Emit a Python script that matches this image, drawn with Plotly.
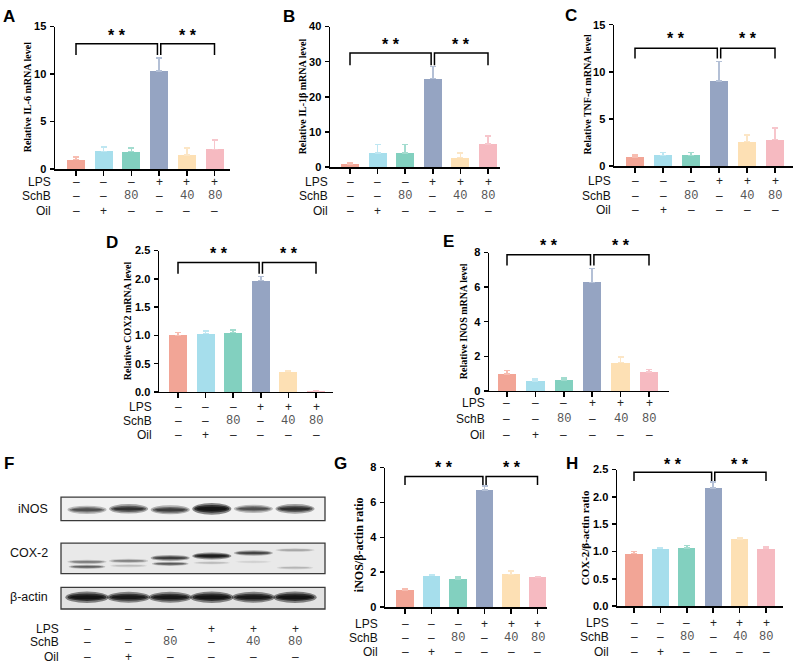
import plotly.graph_objects as go

W, H = 794, 670

# ---------------- data ----------------
groups = ["Control", "Oil", "SchB 80", "LPS", "LPS+SchB 40", "LPS+SchB 80"]
LPS_row = ["–", "–", "–", "+", "+", "+"]
SchB_row = ["–", "–", "80", "–", "40", "80"]
Oil_row = ["–", "+", "–", "–", "–", "–"]

IL6_mean = [1.00, 1.86, 1.83, 10.35, 1.50, 2.07]
IL6_err = [0.28, 0.44, 0.37, 1.35, 0.74, 1.00]
IL1b_mean = [0.90, 4.00, 4.00, 25.2, 2.70, 6.50]
IL1b_err = [0.20, 2.40, 2.40, 3.50, 1.30, 2.30]
TNF_mean = [0.97, 1.14, 1.14, 9.04, 2.60, 2.80]
TNF_err = [0.23, 0.31, 0.31, 2.04, 0.70, 1.25]
COX2_mean = [1.00, 1.03, 1.05, 1.97, 0.36, 0.02]
COX2_err = [0.05, 0.046, 0.044, 0.07, 0.01, 0.005]
INOS_mean = [0.98, 0.58, 0.62, 6.28, 1.64, 1.09]
INOS_err = [0.19, 0.10, 0.12, 0.81, 0.32, 0.16]
iNOS_ratio_mean = [0.99, 1.80, 1.61, 6.72, 1.87, 1.70]
iNOS_ratio_err = [0.08, 0.05, 0.11, 0.21, 0.21, 0.06]
COX2_ratio_mean = [0.96, 1.05, 1.06, 2.16, 1.23, 1.05]
COX2_ratio_err = [0.04, 0.02, 0.05, 0.11, 0.03, 0.03]

# significance brackets: (bracket level, arm end level, star level)
IL6_sig = [13.2, 12.0, 14.1]
IL1b_sig = [32.5, 29.0, 35.0]
TNF_sig = [12.5, 11.4, 13.5]
COX2_sig = [2.29, 2.09, 2.45]
INOS_sig = [7.87, 7.25, 8.40]
iNOS_ratio_sig = [7.49, 7.00, 8.03]
COX2_ratio_sig = [2.45, 2.29, 2.60]
sig_pairs = [(0, 3), (3, 5)]

# western blot band intensities (relative darkness, lanes 1-6)
iNOS_band = [0.50, 0.68, 0.60, 1.00, 0.50, 0.70]
COX2_upper_band = [0.30, 0.28, 0.60, 0.85, 0.55, 0.18]
COX2_lower_band = [0.42, 0.12, 0.45, 0.12, 0.06, 0.14]
actin_band = [0.98, 0.92, 0.92, 0.98, 0.92, 0.98]

# ---------------- style ----------------
bar_colors = ["#F2A596", "#A6DEEC", "#82D0BF", "#95A4C2", "#FDE0B4", "#F6BAC1"]
err_colors = ["#F7BDB1", "#BFE7F2", "#A3DCCF", "#B4C0D6", "#FCE6C6", "#F7C6CC"]

panels = [
    dict(letter="A", mean=IL6_mean, err=IL6_err, sig=IL6_sig, ymax=15, dtick=5, fmt="d",
         title="Relative IL-6 mRNA level", tsize=10,
         axL=55, axR=230, yTop=21, yZero=166, first=76, sp=27.7, rows=(179, 193, 209),
         labR=53, tx=27, ty=93, lx=9, ly=11),
    dict(letter="B", mean=IL1b_mean, err=IL1b_err, sig=IL1b_sig, ymax=40, dtick=10, fmt="d",
         title="Relative IL-1β mRNA level", tsize=10,
         axL=330, axR=500, yTop=21, yZero=164, first=350, sp=27.6, rows=(179, 193, 209),
         labR=330, tx=302, ty=92, lx=289, ly=11),
    dict(letter="C", mean=TNF_mean, err=TNF_err, sig=TNF_sig, ymax=15, dtick=5, fmt="d",
         title="Relative TNF-α mRNA level", tsize=10,
         axL=614, axR=793, yTop=19, yZero=163, first=635, sp=28.0, rows=(178, 193, 208),
         labR=613, tx=587, ty=90, lx=571, ly=10),
    dict(letter="D", mean=COX2_mean, err=COX2_err, sig=COX2_sig, ymax=2.5, dtick=0.5, fmt=".1f",
         title="Relative COX2 mRNA level", tsize=10,
         axL=159, axR=333, yTop=249, yZero=393, first=178, sp=27.6, rows=(408, 423, 437),
         labR=154, tx=127, ty=321, lx=112, ly=241),
    dict(letter="E", mean=INOS_mean, err=INOS_err, sig=INOS_sig, ymax=8, dtick=2, fmt="d",
         title="Relative INOS mRNA level", tsize=10,
         axL=489, axR=669, yTop=251, yZero=392, first=507, sp=28.4, rows=(404, 421, 437),
         labR=487, tx=463, ty=321, lx=448, ly=240),
    dict(letter="G", mean=iNOS_ratio_mean, err=iNOS_ratio_err, sig=iNOS_ratio_sig, ymax=8, dtick=2, fmt="d",
         title="iNOS/β-actin ratio", tsize=12,
         axL=385, axR=547, yTop=470, yZero=612, first=405, sp=26.5, rows=(629, 644, 658),
         labR=380, tx=359, ty=549, lx=340, ly=466),
    dict(letter="H", mean=COX2_ratio_mean, err=COX2_ratio_err, sig=COX2_ratio_sig, ymax=2.5, dtick=0.5, fmt=".1f",
         title="COX-2/β-actin ratio", tsize=11,
         axL=617, axR=783, yTop=472, yZero=611, first=634, sp=26.4, rows=(628, 643, 658),
         labR=611, tx=585, ty=542, lx=572, ly=466),
]

SANS = "Arial, Liberation Sans, sans-serif"
SERIF = "Times New Roman, Liberation Serif, serif"
MONO = "Liberation Mono, DejaVu Sans Mono, monospace"


def px(x):
    return x / W


def py(y):
    return 1 - y / H


fig = go.Figure()
layout = dict(width=W, height=H, margin=dict(l=0, r=0, t=0, b=0),
              paper_bgcolor="white", plot_bgcolor="white", showlegend=False,
              bargap=0)
annotations = []
shapes = []


def add_rows(xref, rows, labR):
    for label, marks, yy in zip(["LPS", "SchB", "Oil"], [LPS_row, SchB_row, Oil_row], rows):
        annotations.append(dict(xref="paper", yref="paper", x=px(labR), y=py(yy), text=label,
                                showarrow=False, xanchor="right", yanchor="middle",
                                font=dict(family=SANS, size=12, color="#111")))
        for i, m in enumerate(marks):
            is_num = m.isdigit()
            annotations.append(dict(xref=xref, yref="paper", x=i, y=py(yy), text=m,
                                    showarrow=False, xanchor="center", yanchor="middle",
                                    font=dict(family=MONO if is_num else SANS, size=12,
                                              color="#555" if is_num else "#222")))


for k, p in enumerate(panels):
    n = k + 1
    xs = "" if n == 1 else str(n)
    xref, yref = "x" + xs, "y" + xs
    xmin = -(p["first"] - p["axL"]) / p["sp"]
    xmax = (p["axR"] - p["first"]) / p["sp"]
    ydom = [py(p["yZero"]), py(p["yTop"])]
    layout["xaxis" + xs] = dict(domain=[px(p["axL"]), px(p["axR"])], range=[xmin, xmax],
                                anchor=yref, showgrid=False, zeroline=False,
                                showline=True, linecolor="black", linewidth=1.5,
                                ticks="outside", ticklen=5, tickwidth=1.5, tickcolor="black",
                                tickvals=list(range(6)), showticklabels=False, fixedrange=True)
    layout["yaxis" + xs] = dict(domain=ydom, range=[0, p["ymax"]],
                                anchor=xref, showgrid=False, zeroline=False,
                                showline=True, linecolor="black", linewidth=1.5,
                                ticks="outside", ticklen=4, tickwidth=1.5, tickcolor="black",
                                dtick=p["dtick"], tick0=0, tickformat=p["fmt"],
                                tickfont=dict(family=SANS, size=11, color="black", weight="bold"),
                                ticklabelstandoff=1, fixedrange=True)
    for i in range(6):
        fig.add_trace(go.Bar(x=[i], y=[p["mean"][i]], width=0.65, xaxis=xref, yaxis=yref,
                             name=groups[i], marker=dict(color=bar_colors[i], line=dict(width=0)),
                             error_y=dict(type="data", array=[p["err"][i]], arrayminus=[0],
                                          symmetric=False, color=err_colors[i],
                                          thickness=1.5, width=3)))
    top, arm, star = p["sig"]
    # star level may lie above the axis top, so place it in paper units via the axis scale
    star_paper = ydom[0] + (star / p["ymax"]) * (ydom[1] - ydom[0])
    offs = [(0.0, -0.06), (0.06, 0.0)]
    for (a, b), (oa, ob) in zip(sig_pairs, offs):
        x0, x1 = a + oa, b + ob
        shapes.append(dict(type="path", xref=xref, yref=yref,
                           path=f"M{x0},{arm} L{x0},{top} L{x1},{top} L{x1},{arm}",
                           line=dict(color="black", width=1.5)))
        annotations.append(dict(xref=xref, yref="paper", x=(x0 + x1) / 2, y=star_paper, text="* *",
                                showarrow=False, xanchor="center", yanchor="middle",
                                font=dict(family=SANS, size=16, color="black", weight="bold")))
    annotations.append(dict(xref="paper", yref="paper", x=px(p["tx"]), y=py(p["ty"]),
                            text="<b>" + p["title"] + "</b>", textangle=-90, showarrow=False,
                            xanchor="center", yanchor="middle",
                            font=dict(family=SERIF, size=p["tsize"], color="black")))
    annotations.append(dict(xref="paper", yref="paper", x=px(p["lx"]), y=py(p["ly"]),
                            text="<b>" + p["letter"] + "</b>", showarrow=False,
                            xanchor="center", yanchor="middle",
                            font=dict(family=SANS, size=17, color="black")))
    add_rows(xref, p["rows"], p["labR"])

# ---------------- panel F: western blot ----------------
nF = len(panels) + 1
xsF = str(nF)
lane_first, lane_sp = 87, 41.6
fL, fR = 55, 331
layout["xaxis" + xsF] = dict(domain=[px(fL), px(fR)],
                             range=[-(lane_first - fL) / lane_sp, (fR - lane_first) / lane_sp],
                             anchor="y" + xsF, visible=False, fixedrange=True)
layout["yaxis" + xsF] = dict(domain=[py(620), py(495)], range=[0, 1], anchor="x" + xsF,
                             visible=False, fixedrange=True)
fig.add_trace(go.Scatter(x=[0], y=[0.5], xaxis="x" + xsF, yaxis="y" + xsF, mode="markers",
                         marker=dict(size=1, color="rgba(0,0,0,0)"), hoverinfo="skip"))

boxes = [("iNOS", 500, 524, "#f1f1f1", 512),
         ("COX-2", 547, 578, "#e9e9e9", 557),
         ("β-actin", 592, 614, "#e2e2e2", 602)]
for name, y0, y1, fill, ly in boxes:
    shapes.append(dict(type="rect", xref="paper", yref="paper", x0=px(61), x1=px(325),
                       y0=py(y1), y1=py(y0), fillcolor=fill, line=dict(color="#3a3a3a", width=1.3),
                       layer="below"))
    annotations.append(dict(xref="paper", yref="paper", x=px(50), y=py(ly), text=name,
                            showarrow=False, xanchor="right", yanchor="middle",
                            font=dict(family=SANS, size=12.5, color="#111")))


def band(lane, yc, intensity, half_w, h):
    xr = "x" + xsF
    for wf, hf, op in [(1.0, 1.0, 0.35), (0.9, 0.65, 0.5), (0.78, 0.35, 0.6)]:
        shapes.append(dict(type="circle", xref=xr, yref="paper",
                           x0=lane - half_w * wf, x1=lane + half_w * wf,
                           y0=py(yc + h * hf / 2), y1=py(yc - h * hf / 2),
                           fillcolor="#101010", opacity=min(1.0, op * intensity * 1.4),
                           line=dict(width=0)))


iNOS_y = [513, 512, 513, 512, 512, 512]
cox_up_y = [566, 565, 562, 560, 557, 554]
cox_lo_y = [571, 570, 568, 567, 566, 572]
for i in range(6):
    band(i, iNOS_y[i], iNOS_band[i], 0.47, 5 + 7 * iNOS_band[i])
    band(i, cox_up_y[i], COX2_upper_band[i], 0.47, 3 + 5 * COX2_upper_band[i])
    band(i, cox_lo_y[i], COX2_lower_band[i], 0.44, 3 + 3 * COX2_lower_band[i])
    band(i, 602, actin_band[i], 0.52, 12 * actin_band[i])

annotations.append(dict(xref="paper", yref="paper", x=px(9), y=py(466), text="<b>F</b>",
                        showarrow=False, xanchor="center", yanchor="middle",
                        font=dict(family=SANS, size=17, color="black")))
add_rows("x" + xsF, (634, 648, 663), 61)

layout["annotations"] = annotations
layout["shapes"] = shapes
fig.update_layout(**layout)
fig.write_html("out.html",
               config={"displayModeBar": False, "staticPlot": True},
               post_script="document.body.style.margin='0';document.body.style.padding='0';"
                           "document.body.style.overflow='hidden';")
